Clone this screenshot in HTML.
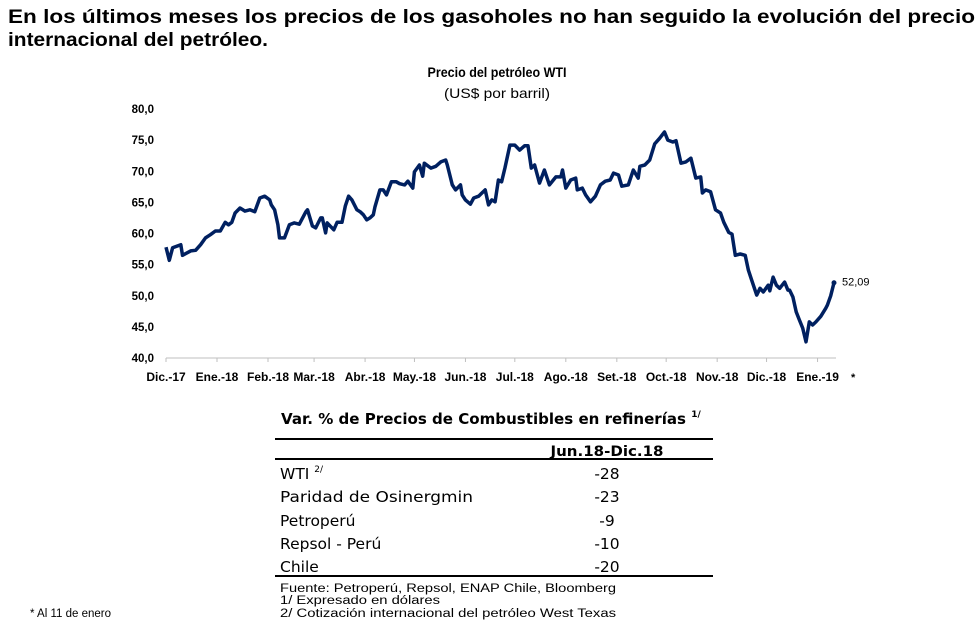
<!DOCTYPE html>
<html><head><meta charset="utf-8">
<style>
body{margin:0;background:#fff;width:980px;height:627px;overflow:hidden}
svg{display:block}
</style></head><body>
<svg width="980" height="627" xmlns="http://www.w3.org/2000/svg">
<g font-family="Liberation Sans, Arial, sans-serif" font-weight="bold" font-size="19" fill="#000">
<text x="8" y="23" textLength="967" lengthAdjust="spacingAndGlyphs">En los últimos meses los precios de los gasoholes no han seguido la evolución del precio</text>
<text x="8" y="46" textLength="260" lengthAdjust="spacingAndGlyphs">internacional del petróleo.</text>
</g>
<g font-family="Liberation Sans, Calibri, sans-serif" text-anchor="middle">
<text x="497" y="77" font-size="13.5" font-weight="bold" textLength="139" lengthAdjust="spacingAndGlyphs">Precio del petróleo WTI</text>
<text x="497" y="98" font-size="14" textLength="106" lengthAdjust="spacingAndGlyphs">(US$ por barril)</text>
</g>
<g id="axes"></g>
<path id="line" fill="none" stroke="#002060" stroke-width="3.5" stroke-linejoin="round"/>
<circle id="lastpt" r="2.5" fill="#002060"/>
<text id="lastlbl" font-family="Liberation Sans, sans-serif" font-size="11">52,09</text>
<text x="851" y="381" font-family="Liberation Sans, sans-serif" font-size="11" font-weight="bold">*</text>

<g>
<text x="281" y="424" font-family="DejaVu Sans, sans-serif" font-weight="bold" font-size="15"><tspan textLength="405" lengthAdjust="spacingAndGlyphs">Var. % de Precios de Combustibles en refinerías</tspan> <tspan font-size="9" dy="-7">1/</tspan></text>
<line x1="275" y1="439" x2="713" y2="439" stroke="#000" stroke-width="2"/>
<text x="607" y="456" text-anchor="middle" font-family="DejaVu Sans, sans-serif" font-weight="bold" font-size="14" textLength="113" lengthAdjust="spacingAndGlyphs">Jun.18-Dic.18</text>
<line x1="275" y1="459" x2="713" y2="459" stroke="#000" stroke-width="2"/>
<g font-family="DejaVu Sans, sans-serif" font-size="15.5">
<text x="280" y="479">WTI <tspan font-size="9" dy="-7">2/</tspan></text>
<text x="607" y="479" text-anchor="middle">-28</text>
<text x="280" y="502" textLength="193" lengthAdjust="spacingAndGlyphs">Paridad de Osinergmin</text>
<text x="607" y="502" text-anchor="middle">-23</text>
<text x="280" y="526">Petroperú</text>
<text x="607" y="526" text-anchor="middle">-9</text>
<text x="280" y="549">Repsol - Perú</text>
<text x="607" y="549" text-anchor="middle">-10</text>
<text x="280" y="572">Chile</text>
<text x="607" y="572" text-anchor="middle">-20</text>
</g>
<line x1="275" y1="576" x2="713" y2="576" stroke="#000" stroke-width="2"/>
<g font-family="Liberation Sans, Arial, sans-serif" font-size="11.5">
<text x="280" y="592" textLength="336" lengthAdjust="spacingAndGlyphs">Fuente: Petroperú, Repsol, ENAP Chile, Bloomberg</text>
<text x="280" y="604" textLength="160" lengthAdjust="spacingAndGlyphs">1/ Expresado en dólares</text>
<text x="280" y="617" textLength="336" lengthAdjust="spacingAndGlyphs">2/ Cotización internacional del petróleo West Texas</text>
</g>
</g>
<text x="30" y="617" font-family="Liberation Sans, Arial, sans-serif" font-size="11.5">* Al 11 de enero</text>
</svg>
<script>
const monthLabels=["Dic.-17","Ene.-18","Feb.-18","Mar.-18","Abr.-18","May.-18","Jun.-18","Jul.-18","Ago.-18","Set.-18","Oct.-18","Nov.-18","Dic.-18","Ene.-19"];
const monthStartDays=[0,31,62,90,121,151,182,212,243,274,304,335,365,396];
const yTicks=[40,45,50,55,60,65,70,75,80];
const days=[0,2,4,9,10,15,18,21,24,27,30,33,36,38,40,42,45,48,51,54,57,60,63,64,66,68,69,72,75,78,81,85,86,89,91,94,95,97,98,102,104,107,109,111,113,116,118,120,122,124,126,127,130,132,134,137,140,142,145,147,150,151,154,156,157,161,164,167,170,171,174,176,179,180,182,185,187,190,192,194,196,198,200,202,204,206,209,212,215,218,220,222,224,227,230,233,237,240,241,243,246,249,250,253,255,258,261,264,267,270,272,275,277,281,284,287,288,291,294,297,300,303,305,308,310,313,316,319,322,325,326,328,331,334,337,339,342,344,346,349,352,354,356,359,361,363,366,367,369,371,373,376,378,379,381,383,385,387,389,391,393,395,398,401,402,404,406];
const prices=[57.8,55.7,57.7,58.2,56.5,57.2,57.3,58.2,59.3,59.8,60.4,60.4,61.8,61.4,61.8,63.3,64.1,63.6,63.8,63.5,65.7,66.0,65.4,64.6,63.8,61.4,59.3,59.3,61.4,61.7,61.5,63.5,63.8,61.2,60.9,62.5,62.5,60.1,61.7,60.6,61.8,61.8,64.4,66.0,65.4,63.8,63.5,63.0,62.2,62.5,63.0,64.3,67.0,67.0,66.2,68.3,68.3,68.0,67.8,68.4,67.3,69.9,71.0,69.2,71.3,70.5,70.8,71.5,71.8,71.0,67.8,67.0,67.8,66.2,65.4,64.7,65.7,66.0,66.5,67.0,64.6,65.4,65.1,68.6,68.3,70.5,74.2,74.2,73.4,74.1,74.1,70.5,71.0,68.1,70.2,67.8,69.1,69.1,70.2,67.3,68.6,68.9,67.0,67.3,66.2,65.1,66.0,67.8,68.4,68.6,69.7,69.4,67.6,67.8,70.2,68.9,70.8,71.0,71.8,74.4,75.3,76.3,75.0,74.7,74.9,71.3,71.5,72.1,68.9,69.1,66.5,67.0,66.7,63.8,63.3,61.8,60.2,59.9,56.5,56.7,56.5,54.1,52.5,50.1,51.2,50.6,51.7,50.8,53.0,51.7,51.2,52.2,50.9,50.9,49.8,47.4,46.1,44.8,42.6,45.8,45.3,45.8,46.7,48.0,48.5,50.0,52.09];
const NS="http://www.w3.org/2000/svg";
const X0=166,X1=834,D1=406,Y0=358,Y1=109;
const xs=d=>X0+(X1-X0)*d/D1;
const ys=v=>Y0-(Y0-Y1)*(v-40)/40;
const axes=document.getElementById('axes');
function mk(tag,attrs,parent){const e=document.createElementNS(NS,tag);for(const k in attrs)e.setAttribute(k,attrs[k]);parent.appendChild(e);return e;}
const base=mk('line',{x1:X0,y1:Y0,x2:X1+2,y2:Y0,stroke:'#bfbfbf','stroke-width':1},axes);


yTicks.forEach(v=>{
  const t=mk('text',{x:154,y:ys(v)+4,'text-anchor':'end','font-family':'Liberation Sans, sans-serif','font-size':'11.5','font-weight':'bold'},axes);
  t.textContent=v.toFixed(1).replace('.',',');
  
  
});
monthLabels.forEach((m,i)=>{
  const x=xs(monthStartDays[i]);
  const tk=mk('line',{x1:x,y1:Y0,x2:x,y2:Y0+4,stroke:'#bfbfbf'},axes);
  
  
  const t=mk('text',{x:x,y:381,'text-anchor':'middle','font-family':'Liberation Sans, sans-serif','font-size':'12','font-weight':'bold'},axes);
  t.textContent=m;
  
  
});
let d='';
days.forEach((dd,i)=>{d+=(i?'L':'M')+xs(dd).toFixed(1)+' '+ys(prices[i]).toFixed(1);});
document.getElementById('line').setAttribute('d',d);
const n=days.length-1;
const lp=document.getElementById('lastpt');
lp.setAttribute('cx',xs(days[n]));lp.setAttribute('cy',ys(prices[n]));
const ll=document.getElementById('lastlbl');
ll.setAttribute('x',xs(days[n])+8);ll.setAttribute('y',ys(prices[n])+3);
ll.textContent=prices[n].toFixed(2).replace('.',',');
</script>
</body></html>
